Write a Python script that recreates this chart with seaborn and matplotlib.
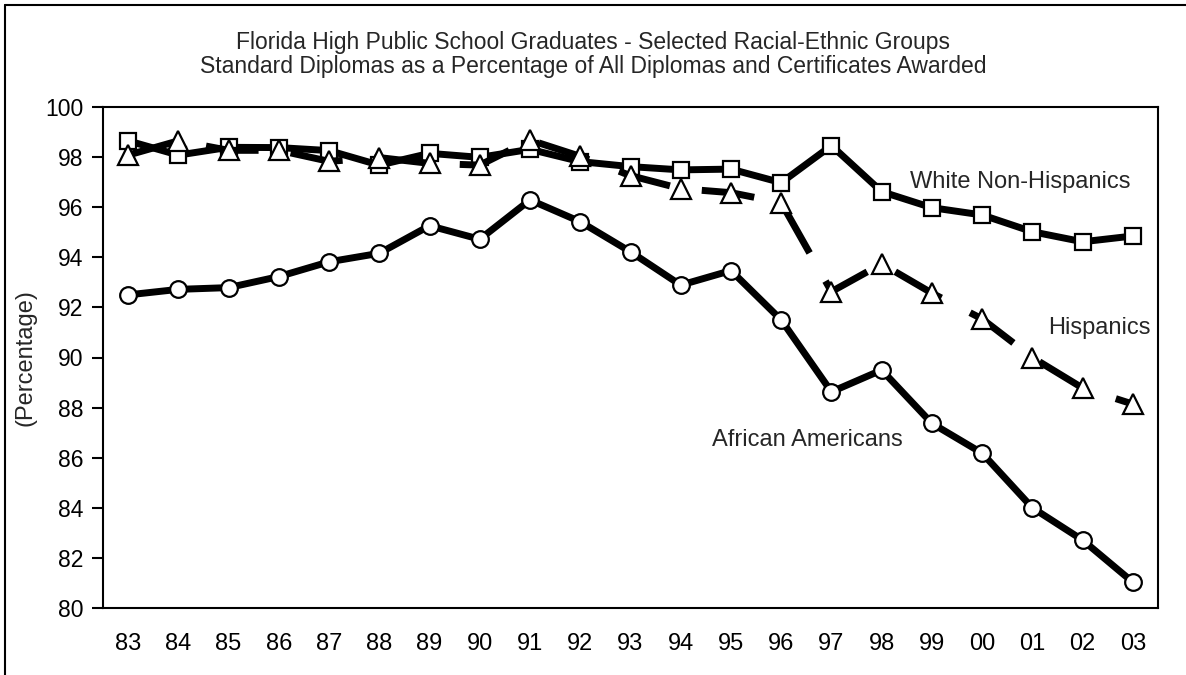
import numpy as np
import pandas as pd
import matplotlib
matplotlib.use("Agg")
import matplotlib.pyplot as plt
from matplotlib.lines import Line2D
import seaborn as sns

# School years (graduating class), two-digit labels
years = ["83", "84", "85", "86", "87", "88", "89", "90", "91", "92", "93",
         "94", "95", "96", "97", "98", "99", "00", "01", "02", "03"]

# Standard diplomas as % of all diplomas and certificates awarded
white_non_hispanic = [98.65, 98.08, 98.39, 98.38, 98.26, 97.68, 98.15, 97.99,
                      98.31, 97.82, 97.62, 97.49, 97.52, 96.98, 98.46, 96.62,
                      95.98, 95.69, 95.02, 94.62, 94.85]
hispanic = [98.08, 98.65, 98.27, 98.27, 97.83, 97.98, 97.75, 97.68, 98.68,
            98.03, 97.26, 96.74, 96.58, 96.18, 92.63, 93.74, 92.57, 91.54,
            90.00, 88.78, 88.14]
african_american = [92.50, 92.72, 92.79, 93.23, 93.82, 94.16, 95.26, 94.72,
                    96.29, 95.42, 94.22, 92.89, 93.47, 91.50, 88.63, 89.50,
                    87.37, 86.18, 84.00, 82.71, 81.03]

series_labels = ["White Non-Hispanics", "Hispanics", "African Americans"]
y_ticks = list(range(80, 101, 2))

title_lines = ["Florida High Public School Graduates - Selected Racial-Ethnic Groups",
               "Standard Diplomas as a Percentage of All Diplomas and Certificates Awarded"]

sns.set_style("white")
plt.rcParams["font.family"] = ["Liberation Sans", "DejaVu Sans"]

W, H = 1186, 675
fig = plt.figure(figsize=(W / 100, H / 100), dpi=100)
ax = fig.add_axes([103 / W, 1 - 608 / H, (1158 - 103) / W, (608 - 107) / H])

df = pd.DataFrame({
    "pos": np.arange(len(years)),
    "white": white_non_hispanic,
    "hisp": hispanic,
    "afam": african_american,
})

common = dict(color="black", linewidth=5.0, markeredgecolor="black",
              markerfacecolor="white", markeredgewidth=1.6, ax=ax,
              legend=False, errorbar=None)

# long-dash pattern (in line-width units) with its phase offset
long_dash = (0.71, (7.63, 4.65))

sns.lineplot(data=df, x="pos", y="white", marker="s", markersize=11.5,
             zorder=3, **common)
sns.lineplot(data=df, x="pos", y="hisp", marker="^", markersize=14,
             linestyle=long_dash, dash_capstyle="butt", zorder=4, **common)
sns.lineplot(data=df, x="pos", y="afam", marker="o", markersize=12,
             zorder=5, **common)

# Axes limits and ticks
ax.set_xlim(-0.5, len(years) - 0.5)
ax.set_ylim(80, 100)
ax.set_yticks(y_ticks)
ax.set_yticklabels([str(v) for v in y_ticks], fontsize=16.5)
ax.set_xticks(np.arange(len(years)))
ax.set_xticklabels(years, fontsize=17)
ax.set_xticks(np.arange(0.5, len(years) - 1, 1.0), minor=True)
ax.tick_params(axis="x", which="major", length=0, pad=18, colors="black")
ax.tick_params(axis="x", which="minor", direction="in", length=7, width=1.5,
               color="black")
ax.tick_params(axis="y", which="major", direction="out", length=8, width=1.5,
               pad=6, colors="black", left=True)
ax.set_xlabel("")
ax.set_ylabel("(Percentage)", fontsize=17, labelpad=6)

for side in ["left", "right", "top", "bottom"]:
    ax.spines[side].set_visible(True)
    ax.spines[side].set_color("black")
    ax.spines[side].set_linewidth(1.5)
ax.grid(False)

# Series labels placed next to their lines
ax.text(15.56, 97.0, series_labels[0], fontsize=17, va="center", ha="left")
ax.text(18.31, 91.18, series_labels[1], fontsize=17, va="center", ha="left")
ax.text(11.62, 86.71, series_labels[2], fontsize=17, va="center", ha="left")

# Two-line title
fig.text(0.5, 1 - 43 / H, title_lines[0], fontsize=16.5, ha="center", va="center")
fig.text(0.5, 1 - 67 / H, title_lines[1], fontsize=16.5, ha="center", va="center")

# Outer frame (left and top edges)
fig.add_artist(Line2D([5 / W, 5 / W], [0, 1 - 5 / H], transform=fig.transFigure,
                      color="black", linewidth=1.5))
fig.add_artist(Line2D([5 / W, 1], [1 - 5 / H, 1 - 5 / H], transform=fig.transFigure,
                      color="black", linewidth=1.5))

fig.savefig("out.png", dpi=100)
